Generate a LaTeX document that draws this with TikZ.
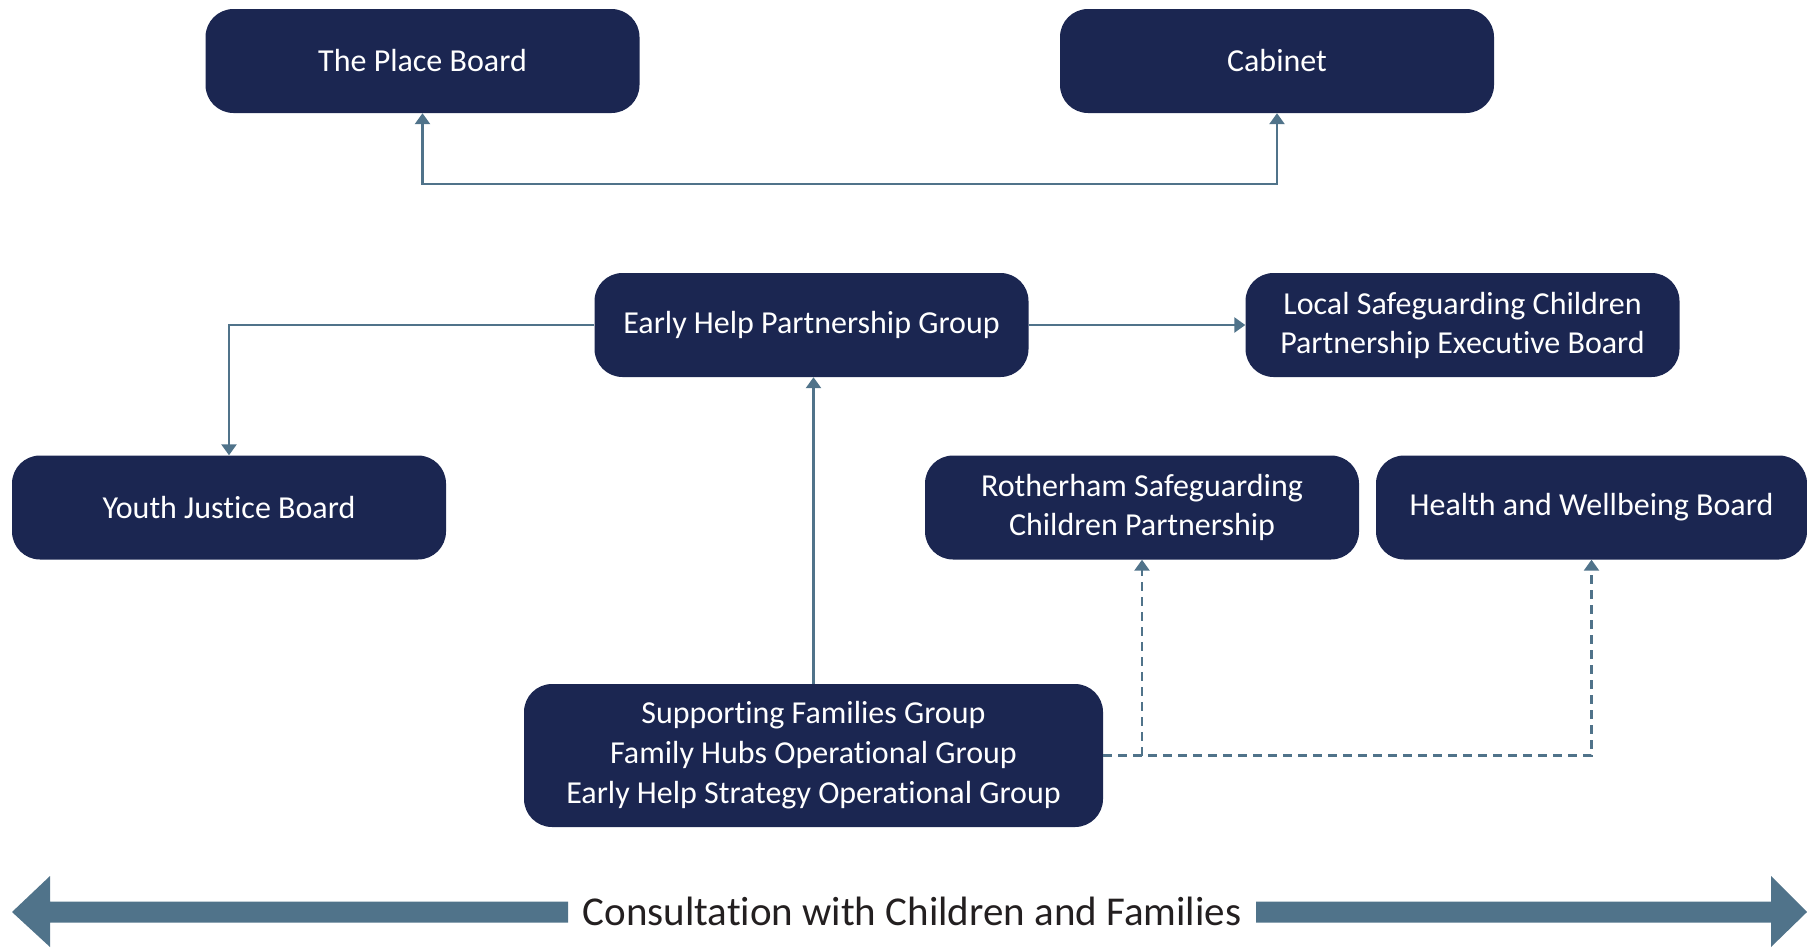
\documentclass[tikz,border=0pt]{standalone}
\usepackage{fontspec}
\setmainfont[Ligatures=NoCommon]{Carlito}
\usetikzlibrary{arrows.meta,calc}
\definecolor{navy}{HTML}{1B2651}
\definecolor{steel}{HTML}{50738A}
\definecolor{txt}{HTML}{231F20}
\begin{document}
\begin{tikzpicture}[x=1pt,y=-1pt,
  box/.style={fill=navy, rounded corners=28pt, text=white,
    font=\fontsize{32}{39}\selectfont, align=center,
    minimum width=434pt, minimum height=104pt, inner sep=0pt},
  tipa/.tip={Triangle[width=15pt,length=11pt]},
  link/.style={draw=steel, line width=2.5pt, -tipa},
  dlink/.style={link, dash pattern=on 9pt off 6pt}]
\useasboundingbox (0,0) rectangle (1807,948);

\node[box] (place) at (422.5,61) {The Place Board};
\node[box] (cab) at (1277,61) {Cabinet};
\node[box] (ehpg) at (811.5,325) {Early Help Partnership Group};
\node[box] (lscp) at (1462.5,325) {Local Safeguarding Children\\Partnership Executive Board};
\node[box] (yjb) at (229,507.5) {Youth Justice Board};
\node[box] (rscp) at (1142,507.5) {Rotherham Safeguarding\\Children Partnership};
\node[box, minimum width=431pt] (hwb) at (1591.5,507.5) {Health and Wellbeing Board};
\node[box, minimum width=579pt, minimum height=143pt, font=\fontsize{32}{40}\selectfont] (sf) at (813.5,755.5)
  {Supporting Families Group\\Family Hubs Operational Group\\Early Help Strategy Operational Group};

\coordinate (tl) at ($(place.south)+(0,71)$);
\draw[link, tipa-tipa] (place.south) -- (tl) -| (cab.south);
\draw[link] (ehpg.west) -| (yjb.north);
\draw[link] (ehpg.east) -- (lscp.west);
\draw[link] (sf.north) -- (sf.north |- ehpg.south);
\draw[dlink] (sf.east) -| (hwb.south);
\draw[dlink] (sf.east -| rscp.south) -- (rscp.south);

\node[text=txt, font=\fontsize{41}{48}\selectfont, inner sep=0pt] (cons) at (912,911) {Consultation with Children and Families};
\fill[steel] (12,912) -- (50,876) -- (50,901.5) -- (568,901.5) -- (568,922.5) -- (50,922.5) -- (50,947) -- cycle;
\fill[steel] (1807,912) -- (1771,876) -- (1771,901.5) -- (1256,901.5) -- (1256,922.5) -- (1771,922.5) -- (1771,947) -- cycle;
\end{tikzpicture}
\end{document}
